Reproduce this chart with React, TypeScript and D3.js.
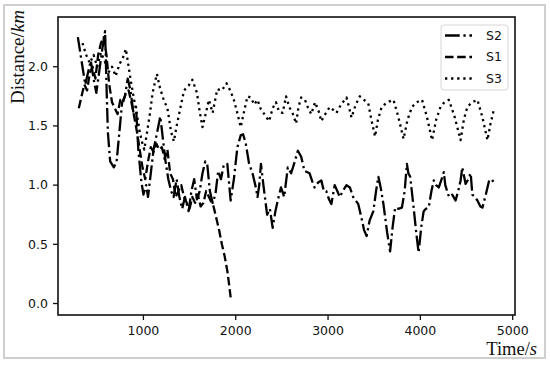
import React from 'react';
import * as d3 from 'd3';

// Distance over time for three runs; matplotlib-style frame.

const W = 550;
const H = 365;
const PLOT = { left: 58, right: 515, top: 17, bottom: 315 };

const X_DOMAIN = [75, 5025];
const Y_DOMAIN = [-0.097, 2.42];
const X_TICKS = [1000, 2000, 3000, 4000, 5000];
const Y_TICKS = [0, 0.5, 1.0, 1.5, 2.0];

// [time (s), distance (km)]
const S2_DATA: [number, number][] = [
  [290, 2.25], [330, 2.05], [370, 1.85], [400, 1.95], [430, 2.05], [460, 1.9], [490, 1.78],
  [520, 1.95], [555, 2.15], [585, 2.3], [600, 1.85], [615, 1.45], [640, 1.2], [680, 1.15],
  [710, 1.2], [740, 1.45], [770, 1.7], [800, 1.75], [830, 1.9], [860, 1.8], [890, 1.62],
  [920, 1.66], [945, 1.3], [975, 1.05], [1000, 0.92], [1030, 1.0], [1050, 0.9], [1080, 1.1],
  [1110, 1.3], [1150, 1.45], [1183, 1.58], [1210, 1.4], [1240, 1.2], [1270, 1.05], [1300, 0.95],
  [1327, 0.9], [1360, 1.05], [1390, 0.9], [1420, 0.8], [1450, 0.9], [1490, 0.78], [1520, 0.95],
  [1550, 1.05], [1580, 0.88], [1610, 0.95], [1640, 1.1], [1670, 1.2], [1691, 1.18], [1720, 0.95],
  [1750, 0.85], [1780, 0.92], [1810, 1.12], [1840, 1.05], [1870, 1.17], [1909, 1.18], [1945, 0.87],
  [1980, 1.05], [2018, 1.32], [2054, 1.42], [2080, 1.43], [2109, 1.35], [2145, 1.18], [2182, 1.1],
  [2218, 0.98], [2236, 0.9], [2255, 1.0], [2273, 1.18], [2300, 1.0], [2340, 0.75], [2370, 0.8],
  [2400, 0.64], [2430, 0.78], [2455, 0.87], [2490, 0.98], [2525, 0.9], [2564, 1.15], [2600, 1.1],
  [2640, 1.2], [2673, 1.29], [2709, 1.24], [2745, 1.12], [2800, 1.1], [2830, 1.03], [2854, 0.98],
  [2890, 1.02], [2927, 1.04], [2955, 0.95], [2981, 0.95], [3010, 0.88], [3036, 0.84], [3072, 1.0],
  [3100, 0.95], [3127, 0.9], [3160, 0.95], [3200, 1.0], [3236, 0.98], [3272, 0.9], [3300, 0.87],
  [3327, 0.84], [3363, 0.72], [3390, 0.62], [3418, 0.57], [3450, 0.7], [3491, 0.78], [3520, 0.95],
  [3545, 1.07], [3570, 0.98], [3600, 0.84], [3640, 0.6], [3672, 0.44], [3700, 0.65], [3727, 0.81],
  [3760, 0.8], [3800, 0.81], [3830, 0.95], [3854, 1.18], [3870, 1.1], [3890, 1.07], [3927, 0.81],
  [3955, 0.6], [3981, 0.43], [4010, 0.65], [4036, 0.78], [4060, 0.8], [4090, 0.81], [4120, 0.95],
  [4145, 1.04], [4170, 1.0], [4200, 0.98], [4230, 1.05], [4254, 1.11], [4270, 1.0], [4290, 0.95],
  [4310, 0.9], [4345, 0.92], [4381, 0.87], [4410, 0.95], [4436, 1.04], [4454, 1.15], [4490, 1.01],
  [4520, 1.05], [4545, 1.1], [4563, 0.92], [4590, 0.9], [4618, 0.87], [4650, 0.82], [4672, 0.81],
  [4709, 0.92], [4745, 1.04], [4770, 1.05], [4800, 1.02],
];

const S1_DATA: [number, number][] = [
  [300, 1.65], [330, 1.75], [360, 1.85], [390, 1.8], [420, 1.95], [450, 2.0], [480, 1.9],
  [510, 2.1], [540, 2.2], [570, 2.25], [600, 2.1], [630, 1.85], [660, 1.7], [690, 1.65],
  [720, 1.6], [750, 1.72], [780, 1.7], [810, 1.78], [840, 1.8], [870, 1.7], [900, 1.58],
  [930, 1.45], [960, 1.3], [990, 1.15], [1020, 1.05], [1050, 1.2], [1080, 1.32], [1110, 1.28],
  [1140, 1.35], [1170, 1.3], [1200, 1.32], [1230, 1.22], [1260, 1.3], [1290, 1.1], [1320, 1.05],
  [1350, 0.9], [1380, 0.95], [1410, 1.0], [1440, 0.9], [1470, 0.85], [1500, 0.8], [1530, 0.9],
  [1560, 0.85], [1590, 0.92], [1620, 0.82], [1650, 0.85], [1680, 0.95], [1710, 0.9], [1740, 0.85],
  [1760, 0.82], [1790, 0.72], [1820, 0.62], [1850, 0.5], [1880, 0.4], [1910, 0.27], [1930, 0.15],
  [1950, 0.02],
];

const S3_DATA: [number, number][] = [
  [340, 2.2], [380, 2.1], [420, 2.03], [460, 2.1], [500, 2.0], [540, 2.12], [580, 2.05],
  [620, 1.95], [660, 2.0], [700, 1.92], [740, 2.02], [780, 2.08], [810, 2.15], [840, 2.0],
  [870, 1.85], [900, 1.72], [930, 1.6], [960, 1.45], [990, 1.35], [1010, 1.3], [1040, 1.45],
  [1070, 1.6], [1100, 1.78], [1146, 1.94], [1180, 1.82], [1220, 1.72], [1260, 1.65], [1300, 1.45],
  [1330, 1.37], [1360, 1.5], [1400, 1.65], [1440, 1.8], [1490, 1.84], [1530, 1.89], [1580, 1.78],
  [1610, 1.62], [1640, 1.49], [1680, 1.62], [1710, 1.72], [1750, 1.61], [1800, 1.81], [1850, 1.8],
  [1900, 1.86], [1940, 1.8], [1980, 1.72], [2020, 1.6], [2054, 1.49], [2090, 1.62], [2127, 1.75],
  [2164, 1.74], [2200, 1.68], [2236, 1.72], [2273, 1.64], [2310, 1.6], [2362, 1.54], [2400, 1.65],
  [2436, 1.7], [2470, 1.62], [2509, 1.61], [2545, 1.75], [2580, 1.66], [2620, 1.6], [2654, 1.52],
  [2680, 1.66], [2709, 1.74], [2750, 1.72], [2780, 1.66], [2818, 1.6], [2860, 1.7], [2900, 1.62],
  [2927, 1.54], [2970, 1.6], [3018, 1.66], [3050, 1.64], [3091, 1.61], [3140, 1.68], [3200, 1.74],
  [3230, 1.65], [3254, 1.57], [3300, 1.68], [3345, 1.75], [3390, 1.72], [3436, 1.69], [3470, 1.55],
  [3509, 1.41], [3540, 1.55], [3581, 1.66], [3640, 1.7], [3709, 1.72], [3760, 1.58], [3818, 1.39],
  [3860, 1.55], [3909, 1.66], [3960, 1.7], [4018, 1.72], [4070, 1.58], [4127, 1.38], [4170, 1.55],
  [4218, 1.66], [4260, 1.7], [4309, 1.72], [4370, 1.58], [4436, 1.38], [4470, 1.55], [4509, 1.66],
  [4560, 1.7], [4618, 1.72], [4670, 1.58], [4727, 1.38], [4760, 1.52], [4800, 1.65],
];

const LW = 2.3;
const SERIES = [
  { name: 'S2', data: S2_DATA, dash: [6.4 * LW, 1.6 * LW, 1 * LW, 1.6 * LW] },
  { name: 'S1', data: S1_DATA, dash: [3.7 * LW, 1.6 * LW] },
  { name: 'S3', data: S3_DATA, dash: [1 * LW, 1.65 * LW] },
];

const TICK_FONT = '"DejaVu Sans", sans-serif';
const LABEL_FONT = '"Liberation Serif", "Times New Roman", serif';
const INK = '#111';

export default function App() {
  const x = d3.scaleLinear().domain(X_DOMAIN).range([PLOT.left, PLOT.right]);
  const y = d3.scaleLinear().domain(Y_DOMAIN).range([PLOT.bottom, PLOT.top]);
  const line = d3
    .line<[number, number]>()
    .x((d) => x(d[0]))
    .y((d) => y(d[1]));

  return (
    <svg
      width={W}
      height={H}
      viewBox={`0 0 ${W} ${H}`}
      style={{ position: 'absolute', left: 0, top: 0, background: '#fff' }}
    >
      <rect x={0} y={0} width={W} height={H} fill="#fff" />
      {/* outer frame */}
      <rect x={4} y={5} width={541} height={353} fill="none" stroke="#cfcfcf" strokeWidth={2} />

      {/* series */}
      {SERIES.map((s) => (
        <path
          key={s.name}
          d={line(s.data) ?? ''}
          fill="none"
          stroke="#000"
          strokeWidth={LW}
          strokeDasharray={s.dash.join(',')}
          strokeLinejoin="round"
        />
      ))}

      {/* axes box */}
      <rect
        x={PLOT.left}
        y={PLOT.top}
        width={PLOT.right - PLOT.left}
        height={PLOT.bottom - PLOT.top}
        fill="none"
        stroke={INK}
        strokeWidth={1.6}
      />

      {/* x ticks */}
      {X_TICKS.map((t) => (
        <g key={`x-${t}`} transform={`translate(${x(t)},${PLOT.bottom})`}>
          <line y1={0} y2={5} stroke={INK} strokeWidth={1.3} />
          <text y={20} textAnchor="middle" fontFamily={TICK_FONT} fontSize={12.5} fill={INK}>
            {t}
          </text>
        </g>
      ))}

      {/* y ticks */}
      {Y_TICKS.map((t) => (
        <g key={`y-${t}`} transform={`translate(${PLOT.left},${y(t)})`}>
          <line x1={-5} x2={0} stroke={INK} strokeWidth={1.3} />
          <text
            x={-10}
            dy="0.35em"
            textAnchor="end"
            fontFamily={TICK_FONT}
            fontSize={12.5}
            fill={INK}
          >
            {t.toFixed(1)}
          </text>
        </g>
      ))}

      {/* axis labels */}
      <text
        transform="translate(24,57) rotate(-90)"
        textAnchor="middle"
        fontFamily={LABEL_FONT}
        fontSize={19}
        fill={INK}
      >
        Distance/<tspan fontStyle="italic">km</tspan>
      </text>
      <text x={537} y={355} textAnchor="end" fontFamily={LABEL_FONT} fontSize={18.5} fill={INK}>
        Time/<tspan fontStyle="italic">s</tspan>
      </text>

      {/* legend */}
      <rect
        x={441}
        y={25}
        width={67}
        height={65}
        rx={3}
        fill="#fff"
        fillOpacity={0.8}
        stroke="#d6d6d6"
        strokeWidth={1}
      />
      {SERIES.map((s, i) => {
        const ly = 35.5 + i * 21.5;
        return (
          <g key={`lg-${s.name}`}>
            <line
              x1={445}
              x2={472}
              y1={ly}
              y2={ly}
              stroke="#000"
              strokeWidth={LW}
              strokeDasharray={s.dash.join(',')}
            />
            <text x={486} y={ly} dy="0.35em" fontFamily={TICK_FONT} fontSize={12.5} fill={INK}>
              {s.name}
            </text>
          </g>
        );
      })}
    </svg>
  );
}
